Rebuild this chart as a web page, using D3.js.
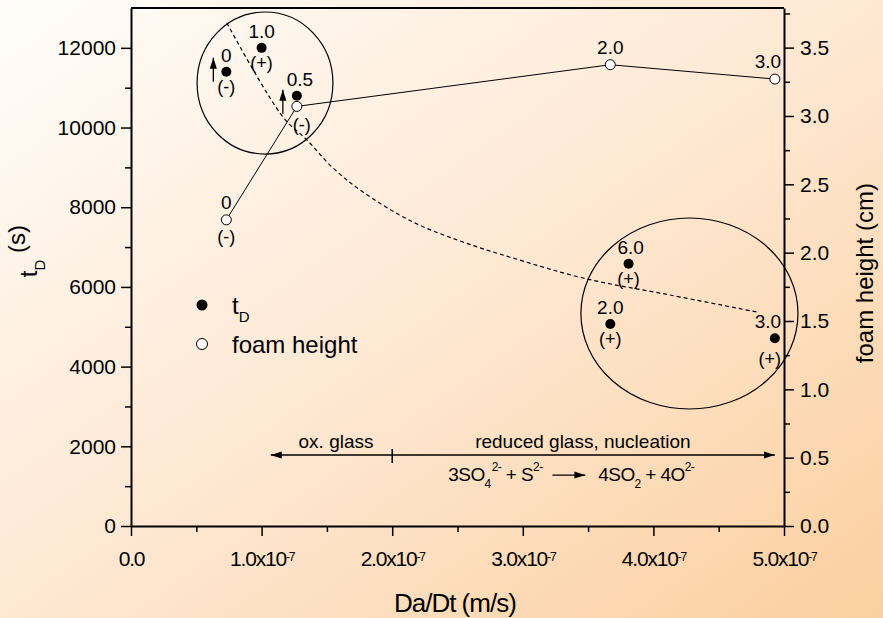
<!DOCTYPE html>
<html>
<head>
<meta charset="utf-8">
<script src="https://cdn.jsdelivr.net/npm/d3@7"></script>
<style>
  body { margin: 0; padding: 0; }
  svg { display: block; font-family: "Liberation Sans", Arial, sans-serif; }
  .axis path, .axis line { stroke: #000; }
  .axis text { font-family: "Liberation Sans", Arial, sans-serif; fill: #000; }
</style>
</head>
<body>
<svg id="chart"></svg>
<script>
// t_D points (filled), labelled with sulfur content and sign
const tdX = [0.73e-7, 1.0e-7, 1.27e-7, 3.67e-7, 3.81e-7, 4.93e-7];
const tdVal = [11400, 12000, 10800, 5070, 6580, 4710];
const tdLabel = ['0', '1.0', '0.5', '2.0', '6.0', '3.0'];
const tdSign = ['(-)', '(+)', '(-)', '(+)', '(+)', '(+)'];

// foam height points (open), right axis
const foamX = [0.73e-7, 1.27e-7, 3.67e-7, 4.93e-7];
const foamVal = [2.24, 3.07, 3.375, 3.27];
const foamLabel = ['0', '', '2.0', '3.0'];
const foamSign = ['(-)', '', '', ''];

// dashed trend line
const trendX = [0.733e-7, 1.164e-7, 1.348e-7, 1.539e-7, 1.776e-7, 2.159e-7, 2.542e-7, 2.925e-7, 3.461e-7, 4.127e-7, 4.793e-7];
const trendVal = [12630, 10263, 9686, 9009, 8381, 7629, 7127, 6725, 6223, 5797, 5370];

// axis ticks
const xTicks = [0, 1e-7, 2e-7, 3e-7, 4e-7, 5e-7];
const xMinor = [0.5e-7, 1.5e-7, 2.5e-7, 3.5e-7, 4.5e-7];
const yLeftTicks = [0, 2000, 4000, 6000, 8000, 10000, 12000];
const yLeftMinor = [1000, 3000, 5000, 7000, 9000, 11000];
const yRightTicks = [0, 0.5, 1.0, 1.5, 2.0, 2.5, 3.0, 3.5];
const yRightMinor = [0.25, 0.75, 1.25, 1.75, 2.25, 2.75, 3.25, 3.75];

const config = {
  width: 883,
  height: 618,
  margin: {top: 8, right: 99, bottom: 92, left: 131}
};

const svg = d3.select('#chart')
    .attr('width', config.width)
    .attr('height', config.height);

// background gradient
const defs = svg.append('defs');
const grad = defs.append('linearGradient')
    .attr('id', 'bg')
    .attr('x1', 0).attr('y1', 0).attr('x2', 1).attr('y2', 1);
grad.append('stop').attr('offset', 0).attr('stop-color', '#fffdfa');
grad.append('stop').attr('offset', 0.5).attr('stop-color', '#fee8d3');
grad.append('stop').attr('offset', 1).attr('stop-color', '#fbcf9f');

defs.append('marker')
    .attr('id', 'head')
    .attr('viewBox', '0 0 10 10')
    .attr('refX', 10).attr('refY', 5)
    .attr('markerWidth', 11).attr('markerHeight', 11)
    .attr('markerUnits', 'userSpaceOnUse')
    .attr('orient', 'auto-start-reverse')
  .append('path')
    .attr('d', 'M0,1.8 L10,5 L0,8.2 Z')
    .attr('fill', '#000');

svg.append('rect')
    .attr('width', config.width)
    .attr('height', config.height)
    .attr('fill', 'url(#bg)');

const m = config.margin;
const width = config.width - m.left - m.right;
const height = config.height - m.top - m.bottom;

const chart = svg.append('g')
    .attr('transform', `translate(${m.left},${m.top})`);

const xScale = d3.scaleLinear().domain([0, 5e-7]).range([0, width]);
const yLeft = d3.scaleLinear().domain([0, 13000]).range([height, 0]);
const yRight = d3.scaleLinear().domain([0, 3.79]).range([height, 0]);

// axes
const xAxisG = chart.append('g')
    .attr('class', 'axis x-axis')
    .attr('transform', `translate(0,${height})`)
    .call(d3.axisBottom(xScale).tickValues(xTicks).tickSize(10).tickSizeOuter(0).tickPadding(15));
chart.append('g')
    .attr('class', 'axis')
    .attr('transform', `translate(0,${height})`)
    .call(d3.axisBottom(xScale).tickValues(xMinor).tickSize(6).tickFormat(''))
    .select('.domain').remove();

xAxisG.selectAll('.tick text')
    .style('font-size', '21px')
    .style('letter-spacing', '-1.2px')
    .each(function(d) {
      const t = d3.select(this);
      t.text(null);
      if (d === 0) {
        t.text('0.0');
      } else {
        t.append('tspan').text(`${(d / 1e-7).toFixed(1)}x10`);
        t.append('tspan').attr('dy', '-0.45em').style('font-size', '12px').text('-7');
      }
    });

const yLeftG = chart.append('g')
    .attr('class', 'axis y-axis')
    .call(d3.axisLeft(yLeft).tickValues(yLeftTicks).tickSize(10).tickSizeOuter(0).tickPadding(5)
      .tickFormat(d3.format('d')));
yLeftG.selectAll('.tick text').style('font-size', '21px');
chart.append('g')
    .attr('class', 'axis')
    .call(d3.axisLeft(yLeft).tickValues(yLeftMinor).tickSize(6).tickFormat(''))
    .select('.domain').remove();

const yRightG = chart.append('g')
    .attr('class', 'axis y-axis-right')
    .attr('transform', `translate(${width},0)`)
    .call(d3.axisRight(yRight).tickValues(yRightTicks).tickSize(10).tickSizeOuter(0).tickPadding(6)
      .tickFormat(d3.format('.1f')));
yRightG.selectAll('.tick text').style('font-size', '21px');
chart.append('g')
    .attr('class', 'axis')
    .attr('transform', `translate(${width},0)`)
    .call(d3.axisRight(yRight).tickValues(yRightMinor).tickSize(6).tickFormat(''))
    .select('.domain').remove();

chart.selectAll('.axis .domain').attr('stroke-width', 2);
chart.selectAll('.axis .tick line').attr('stroke-width', 1.5);

// top frame line
chart.append('line')
    .attr('x1', 0).attr('x2', width)
    .attr('y1', 0).attr('y2', 0)
    .attr('stroke', '#000').attr('stroke-width', 2);

// axis titles
const tTitle = svg.append('text')
    .attr('transform', `translate(37,${m.top + yLeft(6900)}) rotate(-90)`)
    .attr('text-anchor', 'middle')
    .style('font-size', '24px');
tTitle.append('tspan').text('t');
tTitle.append('tspan').attr('dy', '0.55em').style('font-size', '15px').text('D');
tTitle.append('tspan').attr('dy', '-0.85em').text(' (s)');

svg.append('text')
    .attr('transform', `translate(873,${m.top + yRight(1.85)}) rotate(-90)`)
    .attr('text-anchor', 'middle')
    .style('font-size', '24px')
    .text('foam height (cm)');

svg.append('text')
    .attr('x', m.left + xScale(2.48e-7))
    .attr('y', 612)
    .attr('text-anchor', 'middle')
    .style('font-size', '26px')
    .style('letter-spacing', '-1px')
    .text('Da/Dt (m/s)');

// encircled groups
const groups = [
  {cx: 1.026e-7, cy: 11117, rx: 0.52e-7, ry: 1782},
  {cx: 4.276e-7, cy: 5333, rx: 0.831e-7, ry: 2397}
];
chart.selectAll('.group-ring')
    .data(groups)
    .join('ellipse')
    .attr('class', 'group-ring')
    .attr('cx', d => xScale(d.cx))
    .attr('cy', d => yLeft(d.cy))
    .attr('rx', d => xScale(d.rx) - xScale(0))
    .attr('ry', d => yLeft(0) - yLeft(d.ry))
    .attr('fill', 'none')
    .attr('stroke', '#000')
    .attr('stroke-width', 1.2);

// dashed trend
const trendLine = d3.line()
    .x(d => xScale(d[0]))
    .y(d => yLeft(d[1]))
    .curve(d3.curveCatmullRom);
chart.append('path')
    .datum(d3.zip(trendX, trendVal))
    .attr('d', trendLine)
    .attr('fill', 'none')
    .attr('stroke', '#000')
    .attr('stroke-width', 1.2)
    .attr('stroke-dasharray', '4,3');

// foam height line
const foamPts = d3.zip(foamX, foamVal);
chart.append('path')
    .datum(foamPts)
    .attr('d', d3.line().x(d => xScale(d[0])).y(d => yRight(d[1])))
    .attr('fill', 'none')
    .attr('stroke', '#000')
    .attr('stroke-width', 1);

// small upward arrows near the first and third t_D points
[0, 2].forEach(i => {
  const px = xScale(tdX[i]) - (i === 0 ? 13 : 14);
  const py = yLeft(tdVal[i]);
  const y0 = i === 0 ? py + 10 : py + 18;
  chart.append('line')
      .attr('x1', px).attr('x2', px)
      .attr('y1', y0).attr('y2', y0 - 24)
      .attr('stroke', '#000').attr('stroke-width', 1.3)
      .attr('marker-end', 'url(#head)');
});

// t_D points
const tdPts = tdX.map((x, i) => ({x: x, v: tdVal[i], label: tdLabel[i], sign: tdSign[i]}));
chart.selectAll('.td-dot')
    .data(tdPts)
    .join('circle')
    .attr('class', 'td-dot')
    .attr('cx', d => xScale(d.x))
    .attr('cy', d => yLeft(d.v))
    .attr('r', 5)
    .attr('fill', '#000');

// label nudges (pixels) where the picture moves them off centre
const labelShift = {'3.0': -7, '0.5': 3, '6.0': 2};
chart.selectAll('.td-label')
    .data(tdPts)
    .join('text')
    .attr('class', 'td-label')
    .attr('x', d => xScale(d.x) + (labelShift[d.label] || 0))
    .attr('y', d => yLeft(d.v) - 10)
    .attr('text-anchor', 'middle')
    .style('font-size', '19px')
    .text(d => d.label);
chart.selectAll('.td-sign')
    .data(tdPts)
    .join('text')
    .attr('class', 'td-sign')
    .attr('x', d => xScale(d.x) + (d.label === '0.5' ? 5 : d.label === '3.0' ? -5 : 0))
    .attr('y', d => yLeft(d.v) + (d.label === '0.5' ? 35 : d.label === '3.0' ? 27 : 21))
    .attr('text-anchor', 'middle')
    .style('font-size', '18px')
    .text(d => d.sign);

// foam height points
const foamData = foamX.map((x, i) => ({x: x, v: foamVal[i], label: foamLabel[i], sign: foamSign[i]}));
chart.selectAll('.foam-dot')
    .data(foamData)
    .join('circle')
    .attr('class', 'foam-dot')
    .attr('cx', d => xScale(d.x))
    .attr('cy', d => yRight(d.v))
    .attr('r', 5)
    .attr('fill', '#fff')
    .attr('stroke', '#000')
    .attr('stroke-width', 1);
chart.selectAll('.foam-label')
    .data(foamData)
    .join('text')
    .attr('class', 'foam-label')
    .attr('x', d => xScale(d.x) + (labelShift[d.label] || 0))
    .attr('y', d => yRight(d.v) - 11)
    .attr('text-anchor', 'middle')
    .style('font-size', '19px')
    .text(d => d.label);
chart.selectAll('.foam-sign')
    .data(foamData)
    .join('text')
    .attr('class', 'foam-sign')
    .attr('x', d => xScale(d.x))
    .attr('y', d => yRight(d.v) + 23)
    .attr('text-anchor', 'middle')
    .style('font-size', '18px')
    .text(d => d.sign);

// legend
const legend = chart.append('g')
    .attr('transform', `translate(${202 - m.left},${305 - m.top})`);
legend.append('circle').attr('cx', 0).attr('cy', 0).attr('r', 5.5).attr('fill', '#000');
const lt = legend.append('text').attr('x', 30).attr('y', 9).style('font-size', '24px');
lt.append('tspan').text('t');
lt.append('tspan').attr('dy', '0.55em').style('font-size', '15px').text('D');
legend.append('circle').attr('cx', 0).attr('cy', 39).attr('r', 5.5)
    .attr('fill', '#fff').attr('stroke', '#000');
legend.append('text').attr('x', 30).attr('y', 48).style('font-size', '24px').text('foam height');

// regime annotation
const regY = yLeft(1780);
chart.append('line')
    .attr('x1', xScale(1.07e-7)).attr('x2', xScale(4.93e-7))
    .attr('y1', regY).attr('y2', regY)
    .attr('stroke', '#000').attr('stroke-width', 1.5)
    .attr('marker-start', 'url(#head)')
    .attr('marker-end', 'url(#head)');
chart.append('line')
    .attr('x1', xScale(2e-7)).attr('x2', xScale(2e-7))
    .attr('y1', regY - 6).attr('y2', regY + 8)
    .attr('stroke', '#000').attr('stroke-width', 1.5);
chart.append('text')
    .attr('x', xScale(1.57e-7)).attr('y', regY - 7)
    .attr('text-anchor', 'middle')
    .style('font-size', '19px')
    .text('ox. glass');
chart.append('text')
    .attr('x', xScale(3.46e-7)).attr('y', regY - 7)
    .attr('text-anchor', 'middle')
    .style('font-size', '19px')
    .text('reduced glass, nucleation');

// reaction equation
const eqY = regY + 26;
const eq1 = chart.append('text')
    .attr('x', xScale(2.43e-7)).attr('y', eqY)
    .style('font-size', '19px')
    .style('letter-spacing', '-0.6px');
eq1.append('tspan').text('3SO');
eq1.append('tspan').attr('dy', 7).style('font-size', '12px').text('4');
eq1.append('tspan').attr('dy', -17).attr('dx', 1).style('font-size', '12px').text('2-');
eq1.append('tspan').attr('dy', 10).text(' + S');
eq1.append('tspan').attr('dy', -10).style('font-size', '12px').text('2-');
const eqArrowX = xScale(2.43e-7) + 104;
chart.append('line')
    .attr('x1', eqArrowX).attr('x2', eqArrowX + 33)
    .attr('y1', eqY - 6).attr('y2', eqY - 6)
    .attr('stroke', '#000').attr('stroke-width', 1.2)
    .attr('marker-end', 'url(#head)');
const eq2 = chart.append('text')
    .attr('x', eqArrowX + 46).attr('y', eqY)
    .style('font-size', '19px')
    .style('letter-spacing', '-0.6px');
eq2.append('tspan').text('4SO');
eq2.append('tspan').attr('dy', 7).style('font-size', '12px').text('2');
eq2.append('tspan').attr('dy', -7).text(' + 4O');
eq2.append('tspan').attr('dy', -10).style('font-size', '12px').text('2-');
</script>
</body>
</html>
